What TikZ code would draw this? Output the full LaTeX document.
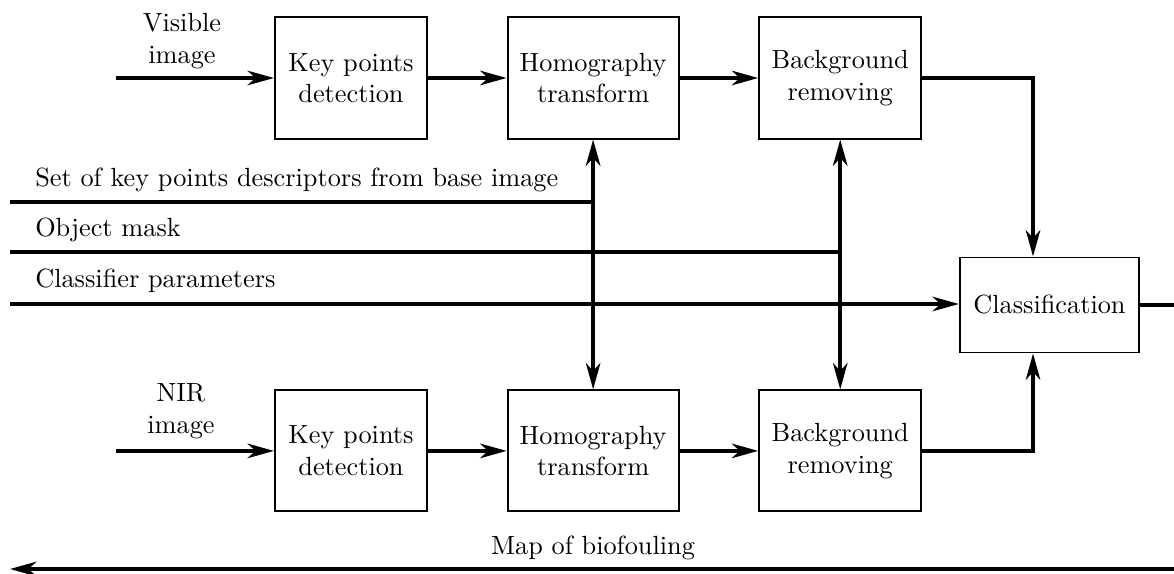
\documentclass[tikz,border=0pt]{standalone}
\usepackage{amsmath}
\usepackage{tikz}
\usetikzlibrary{arrows.meta, positioning}

\begin{document}
\begin{tikzpicture}[x=0.013373cm, y=-0.013373cm,
    >={Stealth[length=10pt, width=5.5pt, inset=3pt]},
    node distance=1.05cm,
    block/.style={draw, line width=0.75pt, minimum height=1.618cm, align=center},
    flow/.style={line width=1.5pt}]
    \useasboundingbox (0,0) rectangle (1174,574);

    % Visible image branch
    \node[block, minimum width=2.033cm] (kpdV) at (351,78) {Key points\\detection};
    \node[block, minimum width=2.287cm, right=of kpdV] (homV) {Homography\\transform};
    \node[block, minimum width=2.166cm, right=of homV] (bgrV) {Background\\removing};
    \node[align=center] (visLbl) at (182,41) {Visible\\image};
    \coordinate (visIn) at (116,78);

    % NIR image branch
    \node[block, minimum width=2.033cm, below=3.34cm of kpdV] (kpdN) {Key points\\detection};
    \node[block, minimum width=2.287cm, right=of kpdN] (homN) {Homography\\transform};
    \node[block, minimum width=2.166cm, right=of homN] (bgrN) {Background\\removing};
    \node[align=center] (nirLbl) at (181,411) {NIR\\image};
    \coordinate (nirIn) at (visIn |- kpdN.west);

    % Classifier
    \node[block, minimum width=2.394cm, minimum height=1.27cm] (cls) at (1049.5,305) {Classification};

    % Shared inputs
    \coordinate (setIn) at (10,202);
    \coordinate (maskIn) at (10,252);
    \coordinate (paramIn) at (10,304);
    \coordinate (outR) at (1174,305);
    \coordinate (mapR) at (1174,569);
    \coordinate (mapL) at (10,569);
    \node[anchor=base west] (setLbl) at (26,187) {Set of key points descriptors from base image};
    \node[anchor=base west] (maskLbl) at (26,237) {Object mask};
    \node[anchor=base west] (paramLbl) at (26,288) {Classifier parameters};
    \node[anchor=base] (mapLbl) at (593,555) {Map of biofouling};

    % Flows
    \draw[flow, ->] (visIn) -- (kpdV.west);
    \draw[flow, ->] (kpdV) -- (homV);
    \draw[flow, ->] (homV) -- (bgrV);
    \draw[flow, ->] (nirIn) -- (kpdN.west);
    \draw[flow, ->] (kpdN) -- (homN);
    \draw[flow, ->] (homN) -- (bgrN);
    \draw[flow] (setIn) -- (setIn -| homV.south);
    \draw[flow] (maskIn) -- (maskIn -| bgrV.south);
    \draw[flow, ->] (paramIn) -- (paramIn -| cls.west);
    \draw[flow, <->] (homV) -- (homN);
    \draw[flow, <->] (bgrV) -- (bgrN);
    \draw[flow, ->] (bgrV.east) -| ([xshift=-0.22cm]cls.north);
    \draw[flow, ->] (bgrN.east) -| ([xshift=-0.22cm]cls.south);
    \draw[flow] (cls.east) -- (outR);
    \draw[flow, ->] (mapR) -- (mapL);
\end{tikzpicture}
\end{document}
